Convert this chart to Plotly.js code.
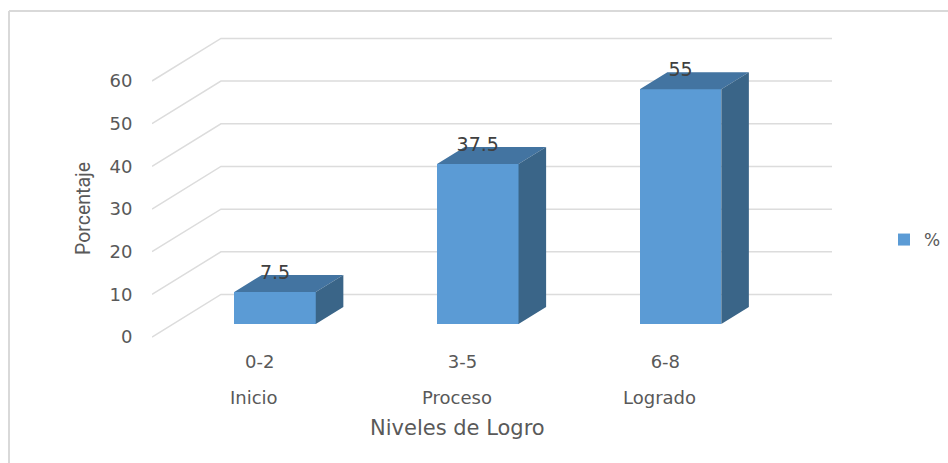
<!DOCTYPE html>
<html>
<head>
<meta charset="utf-8">
<script src="https://cdn.plot.ly/plotly-3.0.1.min.js"></script>
<style>html,body{margin:0;padding:0;background:#fff}#chart{width:948px;height:463px}</style>
</head>
<body>
<div id="chart"></div>
<script>
// Data
const positions = [0, 1, 2];
const ranges = ['0-2', '3-5', '6-8'];
const levels = ['Inicio', 'Proceso', 'Logrado'];
const percent = [7.5, 37.5, 55];
const axisTicks = [0, 10, 20, 30, 40, 50, 60];
const seriesName = '%';

// Pseudo-3D geometry, in axis units
const barWidth = 0.402, barDepthX = 0.136, barDepthY = 4.0, barFloor = 3.05;
const wallDepthX = 0.34, wallDepthY = 9.97;
const xMin = -0.6067, xMax = 2.747, yMin = -1.87, yMax = 71.95;
const plotL = 152, plotR = 832, plotT = 30, plotB = 345;

const px = v => (v - plotL) / (plotR - plotL);
const py = v => (plotB - v) / (plotB - plotT);
const textGrey = '#595959';
const font = 'DejaVu Sans, sans-serif';

const top3d = {x: [], y: []}, side3d = {x: [], y: []};
positions.forEach((p, i) => {
  const l = p - barWidth / 2, r = p + barWidth / 2, t = percent[i] + barFloor;
  top3d.x.push(l, r, r + barDepthX, l + barDepthX, l, null);
  top3d.y.push(t, t, t + barDepthY, t + barDepthY, t, null);
  side3d.x.push(r, r + barDepthX, r + barDepthX, r, r, null);
  side3d.y.push(t, t + barDepthY, barFloor + barDepthY, barFloor, t, null);
});

const traces = [
  {type: 'bar', name: seriesName, x: positions, y: percent, base: barFloor, width: barWidth,
   marker: {color: '#5b9bd5', line: {width: 0}}, showlegend: true, hoverinfo: 'y'},
  {type: 'scatter', mode: 'lines', x: top3d.x, y: top3d.y, fill: 'toself', fillcolor: '#4374a1',
   line: {width: 0, color: '#4374a1'}, showlegend: false, hoverinfo: 'skip'},
  {type: 'scatter', mode: 'lines', x: side3d.x, y: side3d.y, fill: 'toself', fillcolor: '#3a6588',
   line: {width: 0, color: '#3a6588'}, showlegend: false, hoverinfo: 'skip'},
  {type: 'scatter', mode: 'text', x: positions, y: percent.map(v => v + barFloor + 4.2),
   text: percent.map(String), textposition: 'middle center',
   textfont: {family: font, size: 19, color: '#404040'}, showlegend: false, hoverinfo: 'skip'}
];

const shapes = axisTicks.map(v => ({
  type: 'path', layer: 'below', xref: 'x', yref: 'y',
  path: `M ${xMin} ${v} L ${xMin + wallDepthX} ${v + wallDepthY} L ${xMax} ${v + wallDepthY}`,
  line: {color: '#dcdcdc', width: 1.5}
}));
shapes.push(
  {type: 'line', xref: 'paper', yref: 'paper', x0: px(9), x1: px(9), y0: py(11), y1: py(463),
   line: {color: '#d9d9d9', width: 2}},
  {type: 'line', xref: 'paper', yref: 'paper', x0: px(9), x1: px(948), y0: py(11), y1: py(11),
   line: {color: '#d9d9d9', width: 2}}
);

const annotations = levels.map((t, i) => ({
  text: t, xref: 'x', yref: 'paper', x: positions[i] - 0.103, y: py(397),
  xanchor: 'center', yanchor: 'middle', showarrow: false,
  font: {family: font, size: 18, color: textGrey}
}));
annotations.push(
  {text: 'Niveles de Logro', xref: 'paper', yref: 'paper', x: px(457), y: py(428),
   xanchor: 'center', yanchor: 'middle', showarrow: false,
   font: {family: font, size: 21, color: textGrey}},
  {text: 'Porcentaje', xref: 'paper', yref: 'paper', x: px(83), y: py(209), textangle: -90,
   xanchor: 'center', yanchor: 'middle', showarrow: false,
   font: {family: 'Roboto, sans-serif', size: 19.5, color: textGrey}}
);

const layout = {
  width: 948, height: 463,
  margin: {l: plotL, r: 948 - plotR, t: plotT, b: 463 - plotB, pad: 0, autoexpand: false},
  paper_bgcolor: '#ffffff', plot_bgcolor: 'rgba(0,0,0,0)',
  bargap: 0,
  xaxis: {
    type: 'linear', range: [xMin, xMax], tickmode: 'array',
    tickvals: positions.map(p => p - 0.075), ticktext: ranges,
    ticks: 'outside', ticklen: 0, tickcolor: 'rgba(0,0,0,0)',
    showgrid: false, zeroline: false, showline: false,
    tickfont: {family: font, size: 18, color: textGrey}
  },
  yaxis: {
    type: 'linear', range: [yMin, yMax], tickmode: 'array',
    tickvals: axisTicks, ticks: 'outside', ticklen: 15, tickcolor: 'rgba(0,0,0,0)',
    showgrid: false, zeroline: false, showline: false,
    tickfont: {family: font, size: 18, color: textGrey}
  },
  legend: {xref: 'container', yref: 'container', x: 884 / 948, y: 1 - 240 / 463,
           xanchor: 'left', yanchor: 'middle', itemwidth: 30,
           bgcolor: 'rgba(0,0,0,0)', font: {family: font, size: 17, color: textGrey}},
  shapes, annotations
};
Plotly.newPlot('chart', traces, layout, {displayModeBar: false, responsive: false});
</script>
</body>
</html>
